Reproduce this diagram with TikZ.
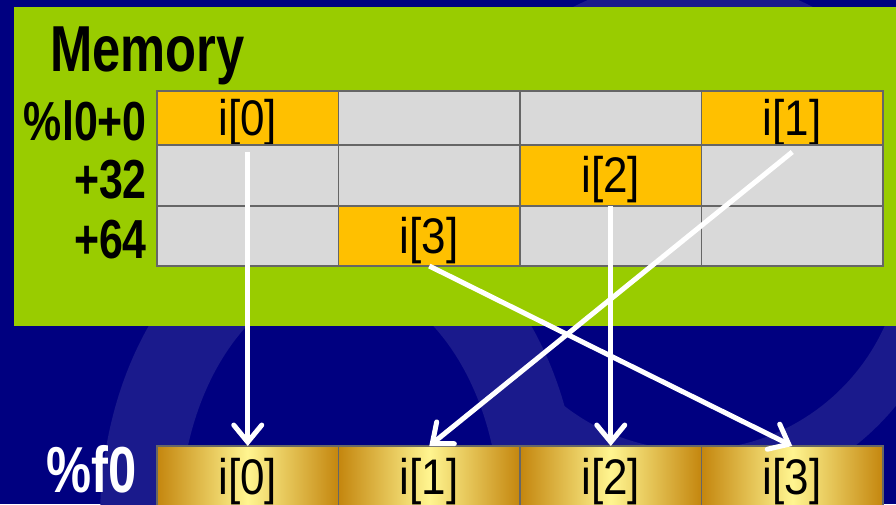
\documentclass[tikz,border=0pt]{standalone}
\usepackage{fontspec}
\setmainfont{Liberation Sans}
\newfontfamily\headfont[FakeStretch=0.78]{Liberation Sans}
\newfontfamily\cellfont[FakeStretch=0.88]{Liberation Sans}
\usepackage{tikz}
\usetikzlibrary{positioning,arrows.meta}
\definecolor{navy}{HTML}{000080}
\definecolor{swirl}{HTML}{1A1A8C}
\definecolor{leaf}{HTML}{99CC00}
\definecolor{hitorange}{HTML}{FFC000}
\definecolor{cellgrey}{HTML}{D9D9D9}
\definecolor{cellline}{HTML}{666666}
\definecolor{golddark}{HTML}{C4860E}
\definecolor{goldlight}{HTML}{FFF590}

\begin{document}
\begin{tikzpicture}[x=1pt, y=-1pt,
    cell/.style={draw=cellline, line width=1.5pt, fill=cellgrey, anchor=north west,
      minimum width=181.5pt, inner sep=0pt, outer sep=0pt,
      text height=43pt, text depth=9pt,
      font=\cellfont\fontsize{50}{54}\selectfont},
    hit/.style={cell, fill=hitorange},
    reg/.style={cell, minimum height=62pt, left color=golddark, right color=golddark,
      middle color=goldlight},
    lbl/.style={font=\headfont\bfseries\fontsize{55}{60}\selectfont, inner sep=0pt},
    move/.style={draw=white, line width=5pt,
      -{Straight Barb[length=17pt, width=28pt, line cap=round]}}]
\useasboundingbox (0,0) rectangle (896,504);
\fill[navy] (0,0) rectangle (896,504);
% background swirl
\draw[swirl, line width=80pt] (340,520) ellipse [x radius=200pt, y radius=280pt];
\draw[swirl, line width=52pt] (693,240) circle [radius=236pt];
\fill[leaf] (14,7) rectangle (900,326);
\node[lbl, anchor=base west, font=\headfont\bfseries\fontsize{65}{70}\selectfont]
  (title) at (50,71) {Memory};
% memory lines
\node[hit, minimum height=54pt] (a0) at (157,91) {i[0]};
\node[cell, minimum height=54pt, right=0pt of a0] (a1) {};
\node[cell, minimum height=54pt, right=0pt of a1] (a2) {};
\node[hit, minimum height=54pt, right=0pt of a2] (a3) {i[1]};
\node[cell, minimum height=61pt, below=0pt of a0] (b0) {};
\node[cell, minimum height=61pt, right=0pt of b0] (b1) {};
\node[hit, minimum height=61pt, right=0pt of b1] (b2) {i[2]};
\node[cell, minimum height=61pt, right=0pt of b2] (b3) {};
\node[cell, minimum height=60pt, below=0pt of b0] (c0) {};
\node[hit, minimum height=60pt, right=0pt of c0] (c1) {i[3]};
\node[cell, minimum height=60pt, right=0pt of c1] (c2) {};
\node[cell, minimum height=60pt, right=0pt of c2] (c3) {};
\node[lbl, left=10pt of a0, yshift=-3pt] (off0) {\%l0+0};
\node[lbl, left=10pt of b0, yshift=-4pt] (off32) {+32};
\node[lbl, left=10pt of c0, yshift=-4pt] (off64) {+64};
% register
\node[reg] (r0) at (157,446) {i[0]};
\node[reg, right=0pt of r0] (r1) {i[1]};
\node[reg, right=0pt of r1] (r2) {i[2]};
\node[reg, right=0pt of r2] (r3) {i[3]};
\node[lbl, white, left=20pt of r0, yshift=8pt,
  font=\headfont\bfseries\fontsize{65}{70}\selectfont] (f0) {\%f0};
\draw[move] ([yshift=-7pt]a0.south) -- (r0.north);
\draw[move] ([yshift=-7pt]a3.south) -- (r1.north);
\draw[move] (b2.south) -- (r2.north);
\draw[move] (c1.south) -- (r3.north);
\end{tikzpicture}
\end{document}
